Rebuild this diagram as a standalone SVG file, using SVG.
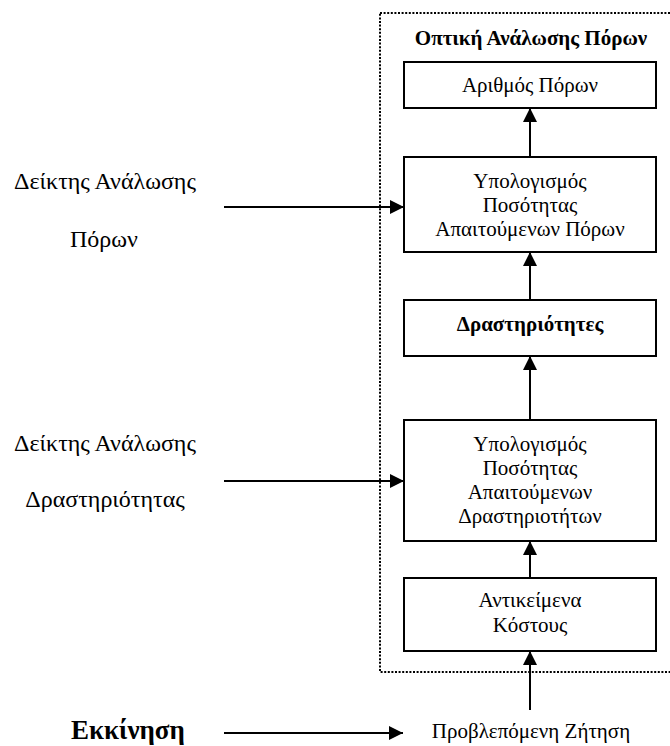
<svg xmlns="http://www.w3.org/2000/svg" width="670" height="746" viewBox="0 0 670 746">
  <style>
    text { font-family: "Liberation Serif", "Times New Roman", serif; fill: #000; }
    .box { fill: #fff; stroke: #000; stroke-width: 2; }
    .lbl { font-size: 21px; text-anchor: middle; }
    .side { font-size: 24px; text-anchor: middle; }
    .bold { font-weight: bold; }
    .wire { stroke: #000; stroke-width: 2; fill: none; marker-end: url(#head); }
    .frame { fill: none; stroke: #000; stroke-width: 2; stroke-dasharray: 2 1.6; }
  </style>
  <defs>
    <marker id="head" markerUnits="userSpaceOnUse" markerWidth="16" markerHeight="16" refX="14" refY="7" orient="auto">
      <path d="M0,0 L14,7 L0,14 Z" fill="#000"/>
    </marker>
  </defs>

  <rect width="670" height="746" fill="#fff"/>

  <!-- dotted boundary of the resource consumption view -->
  <g id="view-frame">
    <rect class="frame" x="380" y="13" width="300" height="659"/>
    <text class="bold" x="531" y="45" font-size="21" text-anchor="middle">Οπτική  Ανάλωσης Πόρων</text>
  </g>

  <g id="resource-count">
    <rect class="box" x="404" y="62" width="252" height="46"/>
    <text class="lbl" x="530" y="92">Αριθμός Πόρων</text>
  </g>

  <g id="resource-quantity">
    <rect class="box" x="404" y="157" width="252" height="95"/>
    <text class="lbl" x="530" y="188">Υπολογισμός</text>
    <text class="lbl" x="530" y="212">Ποσότητας</text>
    <text class="lbl" x="530" y="236">Απαιτούμενων Πόρων</text>
  </g>

  <g id="activities">
    <rect class="box" x="404" y="300" width="252" height="56"/>
    <text class="lbl bold" x="530" y="331">Δραστηριότητες</text>
  </g>

  <g id="activity-quantity">
    <rect class="box" x="404" y="420" width="252" height="121"/>
    <text class="lbl" x="530" y="451">Υπολογισμός</text>
    <text class="lbl" x="530" y="475">Ποσότητας</text>
    <text class="lbl" x="530" y="499">Απαιτούμενων</text>
    <text class="lbl" x="530" y="523">Δραστηριοτήτων</text>
  </g>

  <g id="cost-objects">
    <rect class="box" x="404" y="578" width="252" height="73"/>
    <text class="lbl" x="530" y="607">Αντικείμενα</text>
    <text class="lbl" x="530" y="632">Κόστους</text>
  </g>

  <g id="resource-driver">
    <text class="side" x="105" y="189">Δείκτης Ανάλωσης</text>
    <text class="side" x="104" y="247">Πόρων</text>
  </g>

  <g id="activity-driver">
    <text class="side" x="105" y="451">Δείκτης Ανάλωσης</text>
    <text class="side" x="105" y="507">Δραστηριότητας</text>
  </g>

  <g id="start">
    <text class="bold" x="128" y="739" font-size="27" text-anchor="middle">Εκκίνηση</text>
  </g>

  <g id="forecast-demand">
    <text x="531" y="738" font-size="21" text-anchor="middle">Προβλεπόμενη Ζήτηση</text>
  </g>

  <g id="connectors">
    <line class="wire" x1="530" y1="157" x2="530" y2="108"/>
    <line class="wire" x1="530" y1="300" x2="530" y2="252"/>
    <line class="wire" x1="530" y1="420" x2="530" y2="356"/>
    <line class="wire" x1="530" y1="578" x2="530" y2="541"/>
    <line class="wire" x1="530" y1="710" x2="530" y2="651"/>
    <line class="wire" x1="224" y1="207" x2="404" y2="207"/>
    <line class="wire" x1="224" y1="481" x2="404" y2="481"/>
    <line class="wire" x1="224" y1="733" x2="403" y2="733"/>
  </g>
</svg>
